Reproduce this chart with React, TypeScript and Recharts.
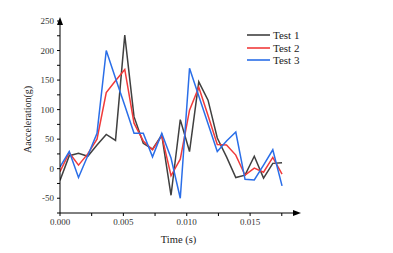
import React from 'react';
import { LineChart, Line, XAxis, YAxis, ReferenceDot } from 'recharts';

// sample step of the recording, seconds
const step = 0.00073;

const test1 = [-20, 22, 26, 21, 40, 58, 48, 226, 88, 43, 33, 57, -45, 83, 29, 147, 116, 52, 20, -15, -11, 21, -16, 9, 10];
const test2 = [-5, 27, 6, 25, 50, 129, 149, 168, 77, 47, 32, 56, -12, 16, 99, 138, 90, 41, 40, 23, -11, 1, -6, 19, -9];
const test3 = [3, 29, -15, 22, 60, 200, 153, 107, 60, 60, 20, 60, 18, -50, 170, 123, 76, 29, 47, 62, -18, -19, 6, 32, -29];

const xTicks = [0, 0.0025, 0.005, 0.0075, 0.01, 0.0125, 0.015, 0.0175];
const yTicks = [-75, -50, -25, 0, 25, 50, 75, 100, 125, 150, 175, 200, 225, 250];

const series = [
  { key: 'test1', name: 'Test 1', color: '#404040' },
  { key: 'test2', name: 'Test 2', color: '#f03a3a' },
  { key: 'test3', name: 'Test 3', color: '#2a6ee8' },
];

const data = test1.map((v, i) => ({ t: i * step, test1: v, test2: test2[i], test3: test3[i] }));

const font = '"Liberation Serif", "Times New Roman", serif';

const XTick = (props: any) => {
  const { x, y, payload } = props;
  const v = payload.value;
  if (Math.abs(v / 0.005 - Math.round(v / 0.005)) > 1e-6) return null;
  return (
    <text x={x} y={y + 7} textAnchor="middle" fontSize={9} fontFamily={font} fill="#333">
      {v.toFixed(3)}
    </text>
  );
};

const YTick = (props: any) => {
  const { x, y, payload } = props;
  if (payload.value % 50 !== 0) return null;
  return (
    <text x={x - 1} y={y + 3} textAnchor="end" fontSize={9} fontFamily={font} fill="#333">
      {payload.value}
    </text>
  );
};

const UpArrow = (props: any) => (
  <path d={`M${props.cx - 3},${props.cy + 4} L${props.cx},${props.cy - 4} L${props.cx + 3},${props.cy + 4} Z`} fill="#000" />
);

const RightArrow = (props: any) => (
  <path d={`M${props.cx - 4},${props.cy - 3} L${props.cx + 4},${props.cy} L${props.cx - 4},${props.cy + 3} Z`} fill="#000" />
);

const LegendBox = () => (
  <div style={{ position: 'absolute', left: 246, top: 29, fontFamily: font, fontSize: 11, color: '#222' }}>
    {series.map((s) => (
      <div key={s.key} style={{ display: 'flex', alignItems: 'center', height: 12.5 }}>
        <svg width={25} height={6}>
          <line x1={1} y1={3} x2={24} y2={3} stroke={s.color} strokeWidth={1.6} />
        </svg>
        <span style={{ marginLeft: 2 }}>{s.name}</span>
      </div>
    ))}
  </div>
);

export default function App() {
  return (
    <div style={{ position: 'absolute', left: 0, top: 0, width: 393, height: 253, background: '#fff' }}>
      <LineChart width={393} height={253} data={data} margin={{ top: 21, right: 96, bottom: 10, left: 20 }}>
        <XAxis
          dataKey="t"
          type="number"
          domain={[0, 0.0187]}
          ticks={xTicks}
          interval={0}
          tick={<XTick />}
          tickSize={3}
          height={30}
          axisLine={{ stroke: '#000' }}
          tickLine={{ stroke: '#000' }}
          allowDataOverflow
          label={{ value: 'Time (s)', position: 'insideBottom', offset: 0, fontSize: 10.5, fontFamily: font, fill: '#222' }}
        />
        <YAxis
          type="number"
          domain={[-75, 250]}
          ticks={yTicks}
          interval={0}
          tick={<YTick />}
          tickSize={3}
          width={40}
          axisLine={{ stroke: '#000' }}
          tickLine={{ stroke: '#000' }}
          allowDataOverflow
          label={{ value: 'Aacceleration(g)', angle: -90, position: 'insideLeft', offset: 7, dy: 36, fontSize: 10, fontFamily: font, fill: '#222' }}
        />
        {series.map((s) => (
          <Line
            key={s.key}
            dataKey={s.key}
            name={s.name}
            stroke={s.color}
            strokeWidth={1.5}
            dot={false}
            isAnimationActive={false}
          />
        ))}
        <ReferenceDot x={0} y={250} r={4} shape={<UpArrow />} ifOverflow="visible" />
        <ReferenceDot x={0.0187} y={-75} r={4} shape={<RightArrow />} ifOverflow="visible" />
      </LineChart>
      <LegendBox />
    </div>
  );
}
